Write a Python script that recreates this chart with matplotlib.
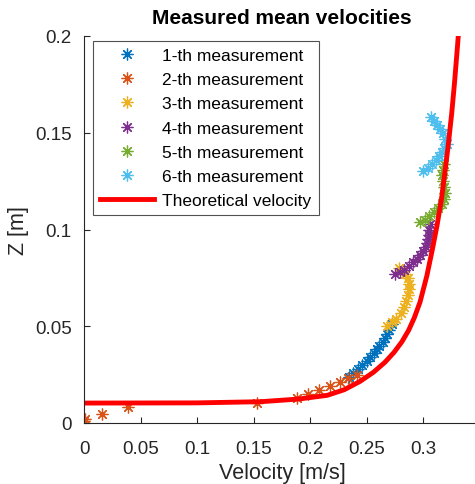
import numpy as np
import matplotlib.pyplot as plt
from matplotlib.ticker import FixedLocator, FormatStrFormatter

plt.rcParams['font.family'] = ['Liberation Sans', 'DejaVu Sans']

# measured mean velocities (u [m/s], z [m])
u1 = [0.234, 0.238, 0.242, 0.246, 0.250, 0.253, 0.256, 0.259, 0.261, 0.264, 0.266, 0.268, 0.270, 0.272]
z1 = [0.024, 0.026, 0.028, 0.030, 0.032, 0.034, 0.036, 0.038, 0.040, 0.042, 0.044, 0.046, 0.048, 0.051]

u2 = [0.0, 0.001, 0.0157, 0.0387, 0.153, 0.188, 0.198, 0.208, 0.217, 0.226, 0.233, 0.241]
z2 = [0.001, 0.002, 0.0047, 0.0084, 0.0103, 0.0128, 0.0148, 0.0169, 0.0193, 0.021, 0.0231, 0.0248]

u3 = [0.268, 0.272, 0.276, 0.280, 0.283, 0.285, 0.286, 0.287, 0.287, 0.286, 0.284, 0.281, 0.278]
z3 = [0.050, 0.052, 0.054, 0.057, 0.060, 0.063, 0.066, 0.069, 0.072, 0.075, 0.077, 0.079, 0.080]

u4 = [0.275, 0.279, 0.283, 0.287, 0.291, 0.294, 0.297, 0.300, 0.302, 0.303, 0.304, 0.305, 0.305, 0.306]
z4 = [0.077, 0.078, 0.079, 0.081, 0.083, 0.085, 0.087, 0.089, 0.091, 0.093, 0.095, 0.097, 0.100, 0.103]

u5 = [0.297, 0.301, 0.305, 0.309, 0.313, 0.316, 0.318, 0.319, 0.318, 0.317, 0.316, 0.317, 0.318]
z5 = [0.104, 0.105, 0.107, 0.109, 0.111, 0.113, 0.116, 0.119, 0.122, 0.125, 0.128, 0.131, 0.134]

u6 = [0.300, 0.304, 0.308, 0.311, 0.314, 0.316, 0.318, 0.321, 0.319, 0.317, 0.315, 0.312, 0.309, 0.307]
z6 = [0.130, 0.132, 0.134, 0.136, 0.138, 0.140, 0.142, 0.144, 0.147, 0.150, 0.152, 0.154, 0.156, 0.158]

# theoretical profile
u_th = [0.0, 0.10, 0.156, 0.19, 0.215, 0.230, 0.244, 0.256, 0.266, 0.274, 0.281, 0.287,
        0.292, 0.297, 0.303, 0.308, 0.312, 0.316, 0.319, 0.322, 0.325, 0.3275, 0.330, 0.332]
z_th = [0.0103, 0.0104, 0.011, 0.0124, 0.0143, 0.0172, 0.0215, 0.0263, 0.0314, 0.0365, 0.0420, 0.0480,
        0.0545, 0.0625, 0.0760, 0.090, 0.102, 0.116, 0.1296, 0.144, 0.160, 0.176, 0.194, 0.209]

series = [(u1, z1), (u2, z2), (u3, z3), (u4, z4), (u5, z5), (u6, z6)]
colors = ['#0072BD', '#D95319', '#EDB120', '#7E2F8E', '#77AC30', '#4DBEEE']
labels = ['%d-th measurement' % (i + 1) for i in range(6)]

fig = plt.figure(figsize=(4.75, 4.85), dpi=100)
ax = fig.add_axes([84 / 475, 61 / 485, 396 / 475, 387 / 485])

for (u, z), c, lab in zip(series, colors, labels):
    ax.plot(u, z, linestyle='none', marker=(8, 2, 0), markersize=8.5, color=c,
            markeredgewidth=0.9, label=lab)
ax.plot(u_th, z_th, color='red', linewidth=3.5, label='Theoretical velocity')

ax.set_xlim(0, 0.35)
ax.set_ylim(0, 0.2)
ax.xaxis.set_major_locator(FixedLocator([0, 0.05, 0.1, 0.15, 0.2, 0.25, 0.3]))
ax.yaxis.set_major_locator(FixedLocator([0, 0.05, 0.1, 0.15, 0.2]))
ax.xaxis.set_major_formatter(FormatStrFormatter('%g'))
ax.yaxis.set_major_formatter(FormatStrFormatter('%g'))

ax.spines['top'].set_visible(False)
ax.spines['right'].set_visible(False)
for s in ['left', 'bottom']:
    ax.spines[s].set_color('#262626')
    ax.spines[s].set_linewidth(0.8)
ax.tick_params(direction='in', length=4, width=0.8, colors='#262626',
               labelsize=13.5, labelcolor='#262626')
ax.tick_params(axis='x', pad=12)
ax.tick_params(axis='y', pad=9)

ax.set_xlabel('Velocity [m/s]', fontsize=15.5, color='#262626', labelpad=4)
ax.set_ylabel('Z [m]', fontsize=15.5, color='#262626', labelpad=4)
ax.set_title('Measured mean velocities', fontsize=15, fontweight='bold', pad=9)

leg = ax.legend(loc='upper left', fontsize=12.5, frameon=True, fancybox=False,
                edgecolor='#262626', handlelength=3.1, handletextpad=0.5,
                borderpad=0.4, labelspacing=0.52, borderaxespad=0,
                bbox_to_anchor=(9 / 396, 1 - 5 / 387))
leg.get_frame().set_linewidth(0.8)

fig.savefig('out.png', dpi=100)
